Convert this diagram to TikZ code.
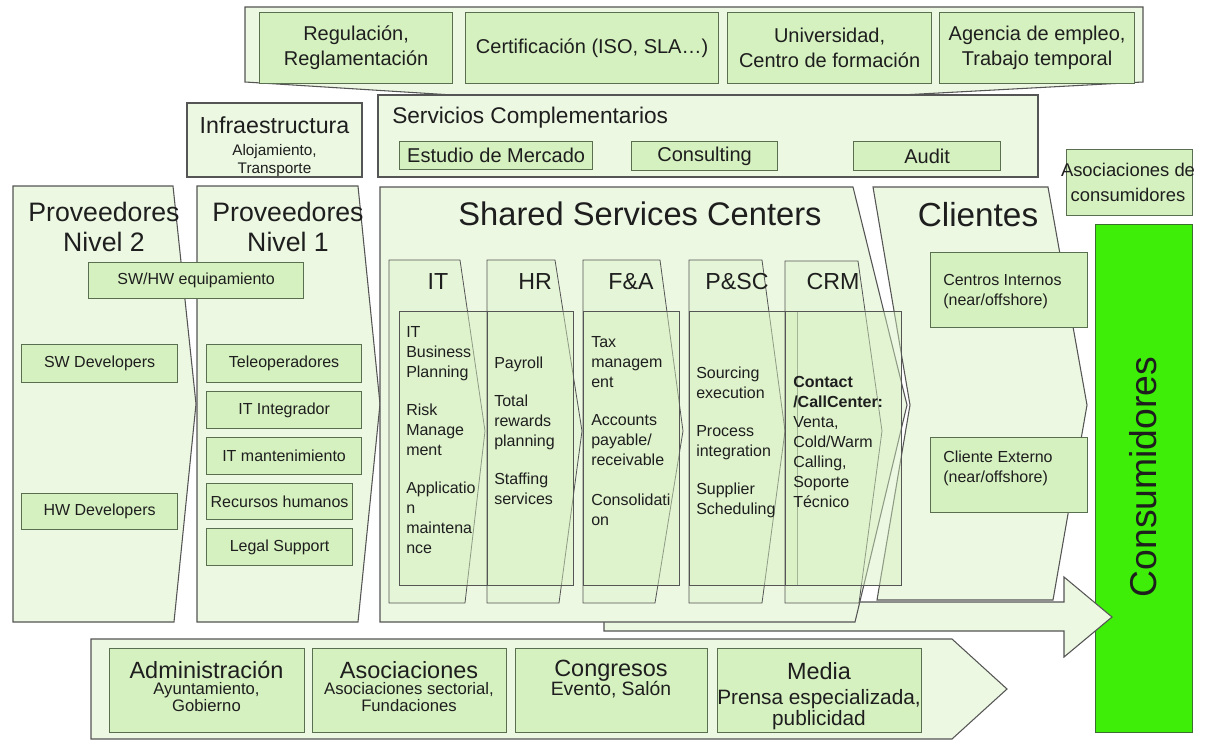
\documentclass[tikz,border=0pt]{standalone}
\usepackage{fontspec}
\setmainfont{Liberation Sans}
\definecolor{panel}{RGB}{236,248,226}
\definecolor{boxf}{RGB}{214,241,192}
\definecolor{edge}{RGB}{85,85,85}
\definecolor{boxedge}{RGB}{90,110,80}
\definecolor{txt}{RGB}{30,30,30}
\definecolor{consgreen}{RGB}{62,238,8}
\definecolor{consedge}{RGB}{60,110,50}
\newcommand\fsz[2]{\fontsize{#1}{#2}\selectfont}
\newcommand\boxnode[7]{\node[smallbox,#6,anchor=north west,minimum width={(#4-#2)*0.75pt},minimum height={(#5-#3)*0.75pt}] (#1) at (#2,#3) {#7};}
\newcommand\rnode[6]{\node[#6,anchor=north west,inner sep=0pt,minimum width={(#4-#2)*0.75pt},minimum height={(#5-#3)*0.75pt}] (#1) at (#2,#3) {};}
\tikzset{
 panelshape/.style={draw=edge,line width=0.8pt,fill=panel},
 smallbox/.style={draw=boxedge,line width=0.9pt,fill=boxf,inner sep=0pt,text=txt},
 lbl/.style={inner sep=0pt,text=txt},
 colshape/.style={draw=edge,line width=0.6pt,fill=boxf,fill opacity=0.3},
 contentbox/.style={draw=edge,line width=0.6pt,fill=boxf,fill opacity=0.45},
 smalltxt/.style={font={\fsz{12}{14}}},
 coltxt/.style={lbl,font={\fsz{12}{15}},align=left,anchor=north west},
 colhead/.style={lbl,font={\fsz{17.4}{20}}},
}
\begin{document}
\begin{tikzpicture}[x=0.75pt,y=-0.75pt]
\useasboundingbox (0,0) rectangle (1210,742);
\fill[white] (0,0) rectangle (1210,742);

% ---- top group
\draw[panelshape] (245,7) -- (1143,7) -- (1143,82) -- (660,108) -- (245,82) -- cycle;
\boxnode{reg}{259}{12}{452}{83}{align=center,font={\fsz{15}{18.75}}}{Regulación,\\Reglamentación}
\boxnode{cert}{465}{12}{718}{83}{align=center,font={\fsz{15}{18.75}}}{Certificación (ISO, SLA…)}
\boxnode{univ}{727}{12}{931}{83}{align=center,font={\fsz{15}{18.75}}}{Universidad,\\Centro de formación}
\boxnode{agen}{939}{12}{1134}{83}{align=center,font={\fsz{15}{18.75}}}{Agencia de empleo,\\Trabajo temporal}

% ---- Infraestructura
\draw[panelshape] (187,103) rectangle (362,177);
\node[lbl,font={\fsz{17.4}{20}}] (infraT) at (274.5,125) {Infraestructura};
\node[lbl,font={\fsz{11.5}{13.5}},align=center,anchor=north] (infraS) at (274.5,144.5) {Alojamiento,\\Transporte};

% ---- Servicios complementarios
\draw[panelshape] (378,95) rectangle (1038,177);
\node[lbl,font={\fsz{17}{20}},anchor=west] (servT) at (392,118) {Servicios Complementarios};
\boxnode{estud}{399}{141}{592}{169}{font={\fsz{15}{18}}}{Estudio de Mercado}
\boxnode{consu}{631}{141}{777}{170}{font={\fsz{15}{18}}}{Consulting}
\boxnode{audit}{853}{141}{1000}{170}{font={\fsz{15}{18}}}{Audit}

% ---- Asociaciones de consumidores
\rnode{asoc}{1066}{149}{1192}{215}{smallbox}
\node[lbl,font={\fsz{13.8}{18.75}},align=center] (asocT) at (1128,182.5) {Asociaciones de\\consumidores};

% ---- Consumidores
\rnode{consbox}{1095}{224}{1192}{732}{draw=consedge,line width=0.9pt,fill=consgreen}
\node[lbl,rotate=90,font={\fsz{28}{32}}] (consT) at (1143,477) {Consumidores};

% ---- bottom pentagon
\draw[panelshape] (91,639) -- (952,639) -- (1007,689) -- (952,739) -- (91,739) -- cycle;
\rnode{admin}{109}{648}{304}{732}{smallbox}
\rnode{asocs}{312}{648}{506}{732}{smallbox}
\rnode{congr}{515}{648}{707}{732}{smallbox}
\rnode{media}{717}{648}{921}{732}{smallbox}
\node[lbl,font={\fsz{17.6}{20}}] (adminT) at (206.5,670) {Administración};
\node[lbl,font={\fsz{12.5}{12.75}},align=center,anchor=north] (adminS) at (206.5,682) {Ayuntamiento,\\Gobierno};
\node[lbl,font={\fsz{17.6}{20}}] (asocsT) at (409,670) {Asociaciones};
\node[lbl,font={\fsz{12.5}{12.75}},align=center,anchor=north] (asocsS) at (409,682) {Asociaciones sectorial,\\Fundaciones};
\node[lbl,font={\fsz{17.6}{20}}] (congrT) at (611,671) {Congresos};
\node[lbl,font={\fsz{14.5}{17}}] (congrS) at (611,690) {Evento, Salón};
\node[lbl,font={\fsz{17.6}{20}}] (mediaT) at (819,671) {Media};
\node[lbl,font={\fsz{15.6}{15.75}},align=center,anchor=north] (mediaS) at (819,689.5) {Prensa especializada,\\publicidad};

% ---- big arrow
\draw[panelshape] (604,602) -- (1064,602) -- (1064,577) -- (1112,617) -- (1064,657) -- (1064,631) -- (604,631) -- cycle;

% ---- Clientes
\draw[panelshape] (873,187) -- (1048,187) -- (1087,405) -- (1053,600) -- (877,600) -- (910,405) -- cycle;
\node[lbl,font={\fsz{25}{28}}] (cliT) at (978,215) {Clientes};
\rnode{cint}{930}{252}{1087}{327}{smallbox}
\node[coltxt] (cintT) at (943,274.2) {Centros Internos\\(near/offshore)};
\rnode{cext}{930}{437}{1087}{512}{smallbox}
\node[coltxt] (cextT) at (943,450.2) {Cliente Externo\\(near/offshore)};

% ---- Proveedores Nivel 2
\draw[panelshape] (13,186) -- (173,186) -- (196,404) -- (174,622) -- (13,622) -- cycle;
\node[lbl,font={\fsz{20}{22.5}},align=center,anchor=north] (p2T) at (104,202) {Proveedores\\Nivel 2};
\boxnode{swdev}{21}{344}{177}{382}{smalltxt}{SW Developers}
\boxnode{hwdev}{21}{493}{177}{529}{smalltxt}{HW Developers}

% ---- Proveedores Nivel 1
\draw[panelshape] (197,186) -- (358,186) -- (380,404) -- (358,622) -- (197,622) -- cycle;
\node[lbl,font={\fsz{20}{22.5}},align=center,anchor=north] (p1T) at (288,202) {Proveedores\\Nivel 1};
\boxnode{tele}{206}{344}{361}{382}{smalltxt}{Teleoperadores}
\boxnode{itint}{206}{391}{361}{428}{smalltxt}{IT Integrador}
\boxnode{itman}{206}{437}{361}{474}{smalltxt}{IT mantenimiento}
\boxnode{rrhh}{206}{483}{352}{519}{smalltxt}{Recursos humanos}
\boxnode{legal}{206}{528}{352}{565}{smalltxt}{Legal Support}
\boxnode{swhw}{88}{262}{303}{298}{smalltxt}{SW/HW equipamiento}

% ---- Shared Services Centers
\draw[panelshape] (380,187) -- (853,187) -- (907,405) -- (855,622) -- (380,622) -- cycle;
\node[lbl,font={\fsz{24.5}{28}}] (sscT) at (640,214) {Shared Services Centers};

\draw[colshape] (389,260) -- (460,260) -- (485,431) -- (465,603) -- (389,603) -- cycle;
\draw[contentbox] (399,311) rectangle (487,585);
\draw[colshape] (487,260) -- (555,260) -- (582,431) -- (559,603) -- (487,603) -- cycle;
\draw[contentbox] (487,311) rectangle (573,585);
\draw[colshape] (583,260) -- (660,260) -- (683,431) -- (655,603) -- (583,603) -- cycle;
\draw[contentbox] (583,311) rectangle (679,585);
\draw[colshape] (689,260) -- (762,260) -- (785,431) -- (762,603) -- (689,603) -- cycle;
\draw[contentbox] (689,311) rectangle (797,585);
\draw[colshape] (785,261) -- (858,261) -- (882,431) -- (859,603) -- (785,603) -- cycle;
\draw[contentbox] (785,311) rectangle (901,585);

\node[colhead] (itH) at (438,282) {IT};
\node[colhead] (hrH) at (535,282) {HR};
\node[colhead] (faH) at (631,282) {F\&A};
\node[colhead] (psH) at (737,282) {P\&SC};
\node[colhead] (crmH) at (833,282) {CRM};

\node[coltxt] (itC) at (406,326.2) {IT\\Business\\Planning\\[13.5pt]Risk\\Manage\\ment\\[13.5pt]Applicatio\\n\\maintena\\nce};
\node[coltxt] (hrC) at (494,356.2) {Payroll\\[13.5pt]Total\\rewards\\planning\\[13.5pt]Staffing\\services};
\node[coltxt] (faC) at (591,336.2) {Tax\\managem\\ent\\[13.5pt]Accounts\\payable/\\receivable\\[15pt]Consolidati\\on};
\node[coltxt] (psC) at (696,366.2) {Sourcing\\execution\\[13.5pt]Process\\integration\\[13.5pt]Supplier\\Scheduling};
\node[coltxt] (crmC) at (793,376.2) {\textbf{Contact}\\\textbf{/CallCenter:}\\Venta,\\Cold/Warm\\Calling,\\Soporte\\Técnico};
\end{tikzpicture}
\end{document}
